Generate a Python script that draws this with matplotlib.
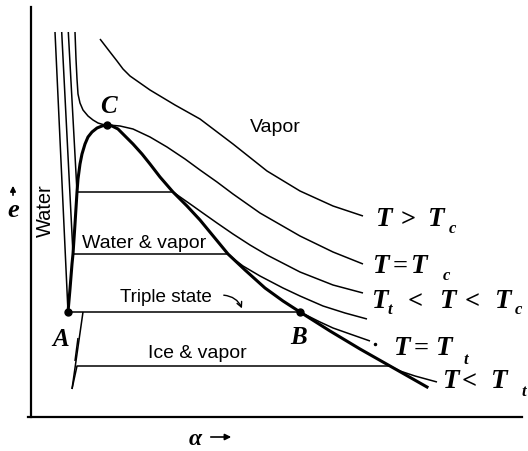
import matplotlib
matplotlib.use("Agg")
import matplotlib.pyplot as plt
from matplotlib import font_manager

# ---------------- data (pixel-like units) ----------------
# isotherm T > Tc
t_gt_c_x = [100, 110, 117, 123, 130, 150, 175, 200, 233, 267, 300, 333, 363]
t_gt_c_y = [40, 53, 62, 70, 77, 91, 106, 120, 145, 172, 192, 207, 217]

# isotherm T = Tc (liquid part + vapor part through C)
t_eq_c_x = [75, 76, 77, 78, 80, 83, 88, 93, 98, 103, 107, 112, 120, 133, 150, 167, 185, 200, 217, 233, 260, 300, 333, 363]
t_eq_c_y = [33, 60, 80, 95, 104, 111, 117, 121, 124, 125.5, 126, 126.3, 127, 130, 138, 148, 160, 171, 183, 195, 214, 237, 253, 265]

# isotherm Tt < T < Tc (upper)
t_mid1_x = [68.3, 77, 173, 183, 193, 200, 217, 233, 250, 267, 300, 333, 363]
t_mid1_y = [33, 193, 193, 200, 207, 212, 224, 235, 246, 256, 273, 286, 294]

# isotherm Tt < T < Tc (lower, unlabeled)
t_mid2_x = [61.7, 73, 228, 235, 243, 260, 283, 300, 323, 345, 367]
t_mid2_y = [33, 255, 255, 261, 267, 277, 289, 297, 307, 314, 320]

# isotherm T = Tt
t_eq_t_x = [55, 68, 300, 310, 320, 333, 350, 370]
t_eq_t_y = [33, 313, 313, 318, 323, 329, 335, 342]

# isotherm T < Tt
t_lt_t_x = [72, 77, 390, 400, 415, 437]
t_lt_t_y = [390, 367, 367, 372, 377, 383]

# saturation dome + sublimation branch
dome_x = [68, 70, 72, 73, 75, 77, 78, 80, 82, 85, 88, 92, 97, 102, 107,
          112, 118, 125, 133, 142, 150, 160, 173, 187, 200, 214, 228, 245, 265, 283, 300, 330, 360, 390, 427]
dome_y = [313, 290, 265, 255, 225, 193, 180, 165, 155, 145, 138, 133, 129, 127, 126,
          127, 130, 137, 145, 155, 165, 178, 193, 207, 221, 238, 255, 271, 289, 302, 313, 332, 350, 367, 388]

# ice boundary
ice_x = [83, 72]
ice_y = [313, 390]
ice_tick_x = [75, 78]
ice_tick_y = [362, 339]

# special points
pts_name = ["A", "B", "C"]
pts_x = [68, 300, 107]
pts_y = [313, 313, 126]


def available(name):
    try:
        path = font_manager.findfont(font_manager.FontProperties(family=name),
                                     fallback_to_default=False)
        return name.split()[-1].lower() in path.lower() or "narrow" not in name.lower()
    except Exception:
        return False


if available("Liberation Sans Narrow"):
    SANS, SCALE = "Liberation Sans Narrow", 1.0
else:
    SANS, SCALE = "Liberation Sans", 0.85

# ---------------- drawing ----------------
W, H = 528, 452
fig = plt.figure(figsize=(W / 100, H / 100), dpi=100)
ax = fig.add_axes([0, 0, 1, 1])
ax.set_xlim(0, W)
ax.set_ylim(H, 0)
ax.axis("off")

thin = dict(color="black", lw=1.1, solid_capstyle="butt")
ax.plot([31, 31], [8, 418], color="black", lw=1.6)
ax.plot([28, 522], [418, 418], color="black", lw=1.6)

for xs, ys in [(t_gt_c_x, t_gt_c_y), (t_eq_c_x, t_eq_c_y), (t_mid1_x, t_mid1_y),
               (t_mid2_x, t_mid2_y), (t_eq_t_x, t_eq_t_y), (t_lt_t_x, t_lt_t_y),
               (ice_x, ice_y), (ice_tick_x, ice_tick_y)]:
    ax.plot(xs, ys, **thin)

ax.plot(dome_x, dome_y, color="black", lw=2.2, solid_joinstyle="round")
ax.plot(pts_x, pts_y, "o", color="black", ms=5)
ax.plot([375], [345], "o", color="black", ms=1.5)

serif = dict(family=["Liberation Serif", "DejaVu Serif"], style="italic", weight="bold", color="black")
sans = dict(family=[SANS, "DejaVu Sans"], color="black")

# point labels
ax.text(100, 113, "C", fontsize=18, va="baseline", ha="left", **serif)
ax.text(52, 346, "A", fontsize=18, va="baseline", ha="left", **serif)
ax.text(290, 344, "B", fontsize=18, va="baseline", ha="left", **serif)

# region labels
ax.text(250, 132, "Vapor", fontsize=16.5 * SCALE, va="baseline", ha="left", **sans)
ax.text(82, 248, "Water & vapor", fontsize=16.5 * SCALE, va="baseline", ha="left", **sans)
ax.text(120, 302, "Triple state", fontsize=16 * SCALE, va="baseline", ha="left", **sans)
ax.text(148, 358, "Ice & vapor", fontsize=16.5 * SCALE, va="baseline", ha="left", **sans)
ax.text(45, 211, "Water", fontsize=17 * SCALE, rotation=90, va="center", ha="center", **sans)

ax.annotate("", xy=(243, 312), xytext=(221, 296),
            arrowprops=dict(arrowstyle="->", color="black", lw=1.0,
                            mutation_scale=9, connectionstyle="arc3,rad=-0.35"))

# isotherm labels: (text, x, baseline, is_subscript)
T_labels = [
    ("T", 375, 226, False), (">", 401, 226, False), ("T", 427, 226, False), ("c", 449, 233, True),
    ("T", 372, 273, False), ("=", 393, 273, False), ("T", 410, 273, False), ("c", 443, 280, True),
    ("T", 371, 308, False), ("t", 388, 314, True), ("<", 408, 308, False), ("T", 439, 308, False),
    ("<", 465, 308, False), ("T", 494, 308, False), ("c", 515, 314, True),
    ("T", 393, 355, False), ("=", 414, 355, False), ("T", 435, 355, False), ("t", 463, 364, True),
    ("T", 442, 388, False), ("<", 462, 388, False), ("T", 490, 388, False), ("t", 521, 396, True),
]
for s, x, y, sub in T_labels:
    if s in "<>=":
        ax.text(x, y, s, fontsize=19, va="baseline", ha="left",
                family=["Liberation Serif", "DejaVu Serif"], weight="bold", color="black")
    else:
        ax.text(x, y, s, fontsize=12 if sub else 19.5, va="baseline", ha="left", **serif)

# axis labels
ax.text(7, 217, "e", fontsize=19, va="baseline", ha="left", **serif)
ax.annotate("", xy=(13, 184), xytext=(13, 199),
            arrowprops=dict(arrowstyle="-|>", color="black", lw=1.2, mutation_scale=8))
ax.text(189, 440, "α", fontsize=17, va="center", ha="left", **serif)
ax.annotate("", xy=(234, 438), xytext=(208, 438),
            arrowprops=dict(arrowstyle="-|>", color="black", lw=1.2, mutation_scale=9))

fig.savefig("out.png", dpi=100, facecolor="white")
